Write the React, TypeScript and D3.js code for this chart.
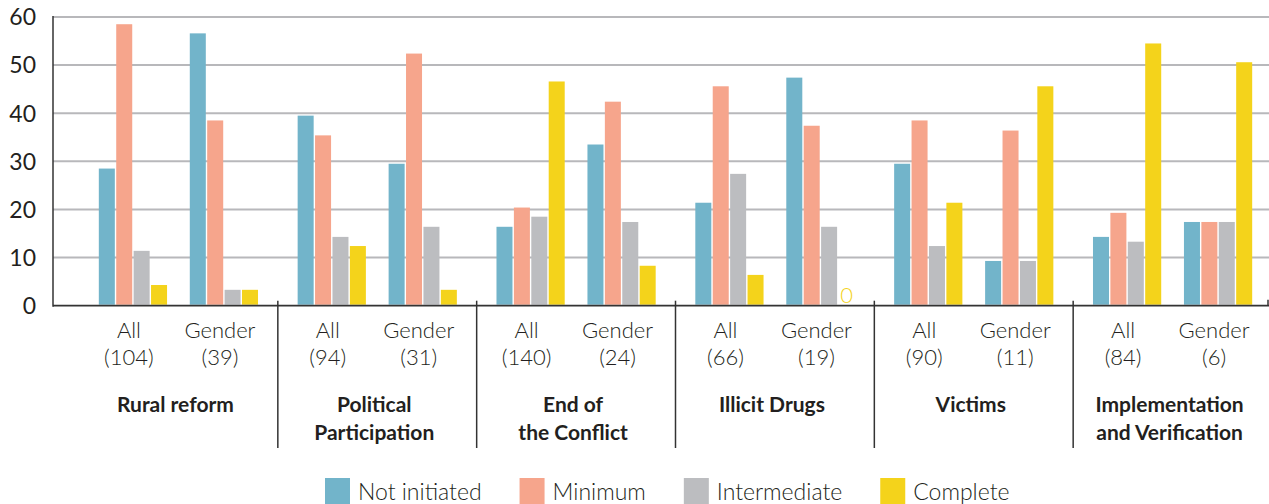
import React, { useEffect, useRef } from "react";
import * as d3 from "d3";

const areaLines = [
  ["Rural reform"],
  ["Political", "Participation"],
  ["End of", "the Conflict"],
  ["Illicit Drugs"],
  ["Victims"],
  ["Implementation", "and Verification"],
];
const subsets = ["All", "Gender"];
const allCounts = [104, 94, 140, 66, 90, 84];
const genderCounts = [39, 31, 24, 19, 11, 6];
const statuses = ["Not initiated", "Minimum", "Intermediate", "Complete"];
const colors = ["#72b4ca", "#f6a58c", "#bcbdc0", "#f4d31b"];

// values in order: area1 All, area1 Gender, area2 All, ...
const notInitiated = [28.5, 56.6, 39.5, 29.5, 16.4, 33.5, 21.4, 47.4, 29.5, 9.3, 14.3, 17.4];
const minimum = [58.5, 38.5, 35.4, 52.4, 20.4, 42.4, 45.6, 37.4, 38.5, 36.4, 19.3, 17.4];
const intermediate = [11.4, 3.3, 14.3, 16.4, 18.5, 17.4, 27.4, 16.4, 12.4, 9.3, 13.3, 17.4];
const complete = [4.3, 3.3, 12.4, 3.3, 46.6, 8.3, 6.4, 0, 21.4, 45.6, 54.5, 50.6];
const yTicks = [0, 10, 20, 30, 40, 50, 60];

const W = 1269;
const H = 504;
const FONT = "Lato, 'Noto Sans', sans-serif";
const INK = "#231f20";

function Chart() {
  const ref = useRef(null);

  useEffect(() => {
    const svg = d3.select(ref.current);
    svg.selectAll("*").remove();

    const axisX = 53;
    const y = d3.scaleLinear().domain([0, 60]).range([305.7, 17]);

    const groups = d3.range(areaLines.length);
    const x0 = d3.scaleBand().domain(groups.map(String)).range([79, 1272]);
    const gw = x0.bandwidth();
    const x1 = d3
      .scaleBand()
      .domain(subsets)
      .range([gw / 2 - 79.6, gw / 2 + 79.6])
      .paddingInner(0.25);
    const x2 = d3
      .scaleBand()
      .domain(statuses)
      .range([0, x1.bandwidth()])
      .paddingInner(0.08);

    const series = [notInitiated, minimum, intermediate, complete];

    // grid
    svg
      .append("g")
      .selectAll("line")
      .data(yTicks.filter((t) => t > 0))
      .join("line")
      .attr("x1", axisX)
      .attr("x2", W)
      .attr("y1", (d) => y(d))
      .attr("y2", (d) => y(d))
      .attr("stroke", "#b8b8bb")
      .attr("stroke-width", 2);

    // y labels
    svg
      .append("g")
      .selectAll("text")
      .data(yTicks)
      .join("text")
      .attr("x", 36)
      .attr("y", (d) => y(d))
      .attr("dy", "0.36em")
      .attr("text-anchor", "end")
      .attr("font-family", FONT)
      .attr("font-size", 23)
      .attr("fill", INK)
      .text((d) => d);

    // bars
    const cells = [];
    groups.forEach((g) => {
      subsets.forEach((s, si) => {
        statuses.forEach((st, k) => {
          cells.push({ g, s, st, k, v: series[k][g * 2 + si] });
        });
      });
    });

    const barX = (d) => x0(String(d.g)) + x1(d.s) + x2(d.st);

    svg
      .append("g")
      .selectAll("rect")
      .data(cells.filter((d) => d.v > 0))
      .join("rect")
      .attr("x", barX)
      .attr("width", x2.bandwidth())
      .attr("y", (d) => y(d.v))
      .attr("height", (d) => y(0) - 1 - y(d.v))
      .attr("fill", (d) => colors[d.k]);

    svg
      .append("g")
      .selectAll("text")
      .data(cells.filter((d) => d.v === 0))
      .join("text")
      .attr("x", (d) => barX(d) + x2.bandwidth() / 2)
      .attr("y", y(0) - 3)
      .attr("text-anchor", "middle")
      .attr("font-family", FONT)
      .attr("font-weight", 300)
      .attr("font-size", 22)
      .attr("fill", (d) => colors[d.k])
      .text("0");

    // axes
    svg
      .append("line")
      .attr("x1", axisX)
      .attr("x2", axisX)
      .attr("y1", y(60) - 1)
      .attr("y2", y(0) + 1)
      .attr("stroke", "#333")
      .attr("stroke-width", 1.5);
    svg
      .append("line")
      .attr("x1", axisX)
      .attr("x2", W)
      .attr("y1", y(0))
      .attr("y2", y(0))
      .attr("stroke", "#333")
      .attr("stroke-width", 1.8);

    // group separators
    svg
      .append("g")
      .selectAll("line")
      .data(groups.slice(1))
      .join("line")
      .attr("x1", (g) => x0(String(g)))
      .attr("x2", (g) => x0(String(g)))
      .attr("y1", y(0) - 5)
      .attr("y2", 448)
      .attr("stroke", "#333")
      .attr("stroke-width", 1.5);
    svg
      .append("line")
      .attr("x1", W - 1)
      .attr("x2", W - 1)
      .attr("y1", y(0) - 6)
      .attr("y2", y(0))
      .attr("stroke", "#333")
      .attr("stroke-width", 1.5);

    // subset labels
    const sub = svg
      .append("g")
      .attr("font-family", FONT)
      .attr("font-weight", 300)
      .attr("font-size", 22)
      .attr("fill", INK)
      .attr("text-anchor", "middle");
    groups.forEach((g) => {
      subsets.forEach((s, si) => {
        const cx = x0(String(g)) + x1(s) + x1.bandwidth() / 2 - 4;
        const n = si === 0 ? allCounts[g] : genderCounts[g];
        sub.append("text").attr("x", cx).attr("y", 338).text(s);
        sub.append("text").attr("x", cx).attr("y", 365).text(`(${n})`);
      });
    });

    // area labels
    const lab = svg
      .append("g")
      .attr("font-family", FONT)
      .attr("font-weight", 700)
      .attr("font-size", 21)
      .attr("fill", INK)
      .attr("text-anchor", "middle");
    groups.forEach((g) => {
      const cx = x0(String(g)) + gw / 2 - 3;
      areaLines[g].forEach((line, li) => {
        lab.append("text").attr("x", cx).attr("y", 412 + li * 28).text(line);
      });
    });

    // legend
    const leg = svg.append("g");
    let lx = 325;
    statuses.forEach((st, k) => {
      leg.append("rect").attr("x", lx).attr("y", 478).attr("width", 25).attr("height", 26).attr("fill", colors[k]);
      const t = leg
        .append("text")
        .attr("x", lx + 33)
        .attr("y", 500)
        .attr("font-family", FONT)
        .attr("font-weight", 300)
        .attr("font-size", 23)
        .attr("fill", INK)
        .text(st);
      const tw = t.node().getComputedTextLength();
      lx += 33 + tw + 38;
    });
  }, []);

  return <svg ref={ref} width={W} height={H} style={{ display: "block" }} />;
}

export default function App() {
  return (
    <div
      style={{
        position: "fixed",
        left: 0,
        top: 0,
        width: W,
        height: H,
        overflow: "hidden",
        background: "#fff",
      }}
    >
      <Chart />
    </div>
  );
}
